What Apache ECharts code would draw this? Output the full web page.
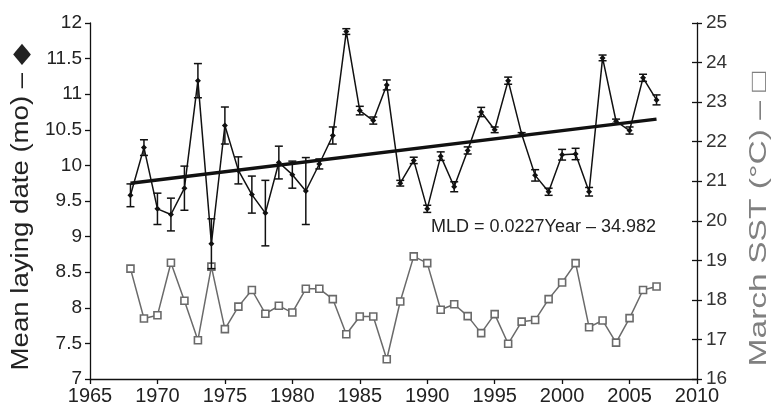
<!DOCTYPE html>
<html>
<head>
<meta charset="utf-8">
<script src="https://cdn.jsdelivr.net/npm/echarts@6/dist/echarts.min.js"></script>
<style>html,body{margin:0;padding:0;background:#fff}#c{width:774px;height:412px}</style>
</head>
<body>
<div id="c"></div>
<script>
const years = [1968,1969,1970,1971,1972,1973,1974,1975,1976,1977,1978,1979,1980,1981,1982,1983,1984,1985,1986,1987,1988,1989,1990,1991,1992,1993,1994,1995,1996,1997,1998,1999,2000,2001,2002,2003,2004,2005,2006,2007];
const layingDate = [9.58,10.25,9.39,9.31,9.68,11.19,8.90,10.56,9.93,9.59,9.33,10.04,9.87,9.64,10.02,10.42,11.88,10.77,10.63,11.13,9.75,10.07,9.39,10.13,9.70,10.21,10.75,10.50,11.19,10.44,9.86,9.63,10.15,10.16,9.63,11.51,10.62,10.49,11.23,10.92];
const layingErr = [0.16,0.11,0.22,0.23,0.31,0.24,0.35,0.26,0.19,0.26,0.46,0.23,0.19,0.47,0.07,0.12,0.04,0.06,0.05,0.07,0.04,0.045,0.05,0.06,0.07,0.05,0.065,0.04,0.05,0.02,0.08,0.05,0.075,0.08,0.06,0.04,0.03,0.05,0.05,0.07];
const marchSST = [18.79,17.53,17.61,18.94,17.98,16.98,18.84,17.26,17.83,18.25,17.65,17.85,17.68,18.28,18.28,18.02,17.13,17.58,17.58,16.50,17.96,19.10,18.93,17.75,17.89,17.59,17.16,17.64,16.89,17.45,17.49,18.02,18.44,18.93,17.31,17.48,16.92,17.54,18.25,18.34];
const trendYears = [1968, 2007];
const trendValues = [9.75, 10.65];
const xTicks = {min:1965, max:2010, interval:5};
const leftTicks = {min:7, max:12, interval:0.5};
const rightTicks = {min:16, max:25, interval:1};
const leftTitle = 'Mean laying date (mo) – ◆';
const rightTitle = 'March SST (°C) – □';

const FONT = 'Liberation Sans, Arial, Helvetica, sans-serif';
const chart = echarts.init(document.getElementById('c'));

const errData = years.map((y,i)=>[y, layingDate[i]-layingErr[i], layingDate[i]+layingErr[i]]);

chart.setOption({
  animation:false,
  grid:{left:90,right:77,top:23,bottom:33,containLabel:false},
  xAxis:{type:'value',min:xTicks.min,max:xTicks.max,interval:xTicks.interval,
    axisLine:{lineStyle:{color:'#111',width:1.3}},
    axisTick:{length:5,lineStyle:{color:'#111',width:1.3}},
    axisLabel:{fontFamily:FONT,fontSize:20,color:'#222',margin:7,formatter:v=>String(v)},
    splitLine:{show:false}},
  yAxis:[
    {type:'value',position:'left',min:leftTicks.min,max:leftTicks.max,interval:leftTicks.interval,
     axisLine:{show:true,lineStyle:{color:'#111',width:1.3}},
     axisTick:{show:true,length:5,lineStyle:{color:'#111',width:1.3}},
     axisLabel:{fontFamily:FONT,fontSize:19,color:'#222',margin:8},
     splitLine:{show:false}},
    {type:'value',position:'right',min:rightTicks.min,max:rightTicks.max,interval:rightTicks.interval,
     axisLine:{show:true,lineStyle:{color:'#111',width:1.3}},
     axisTick:{show:true,length:5,lineStyle:{color:'#111',width:1.3}},
     axisLabel:{fontFamily:FONT,fontSize:19,color:'#333',margin:9},
     splitLine:{show:false}},
    {type:'value',position:'right',min:rightTicks.min,max:rightTicks.max,interval:rightTicks.interval,
     axisLine:{show:false},
     axisTick:{show:true,inside:true,length:5,lineStyle:{color:'#111',width:1.3}},
     axisLabel:{show:false},splitLine:{show:false}}
  ],
  series:[
    {type:'line',yAxisIndex:1,data:years.map((y,i)=>[y,marchSST[i]]),
     symbol:'rect',symbolSize:7,lineStyle:{color:'#6a6a6a',width:1.5},
     itemStyle:{color:'#fff',borderColor:'#6a6a6a',borderWidth:1.6},z:2},
    {type:'custom',yAxisIndex:0,data:errData,z:3,
     renderItem:function(params,api){
       const x=api.value(0);
       const lo=api.coord([x,api.value(1)]);
       const hi=api.coord([x,api.value(2)]);
       const w=4;
       const st={stroke:'#111',lineWidth:1.5};
       return {type:'group',children:[
         {type:'line',shape:{x1:lo[0],y1:lo[1],x2:hi[0],y2:hi[1]},style:st},
         {type:'line',shape:{x1:lo[0]-w,y1:lo[1],x2:lo[0]+w,y2:lo[1]},style:st},
         {type:'line',shape:{x1:hi[0]-w,y1:hi[1],x2:hi[0]+w,y2:hi[1]},style:st}
       ]};
     }},
    {type:'line',yAxisIndex:0,data:years.map((y,i)=>[y,layingDate[i]]),
     symbol:'diamond',symbolSize:6,lineStyle:{color:'#111',width:1.5},
     itemStyle:{color:'#111'},z:4},
    {type:'line',yAxisIndex:0,data:trendYears.map((y,i)=>[y,trendValues[i]]),
     symbol:'none',lineStyle:{color:'#111',width:3.5},z:5}
  ],
  graphic:[
    {type:'text',left:431,top:218,style:{text:'MLD = 0.0227Year – 34.982',fontFamily:FONT,fontSize:18,fill:'#222'}},
    {type:'text',x:22,y:207,rotation:Math.PI/2,scaleX:1.2,
     style:{text:leftTitle,fontFamily:FONT,fontSize:23,fill:'#222',align:'center',verticalAlign:'middle'}},
    {type:'text',x:759,y:219,rotation:Math.PI/2,scaleX:1.4,
     style:{text:rightTitle,fontFamily:FONT,fontSize:24,fill:'#808080',align:'center',verticalAlign:'middle'}}
  ]
});
</script>
</body>
</html>
